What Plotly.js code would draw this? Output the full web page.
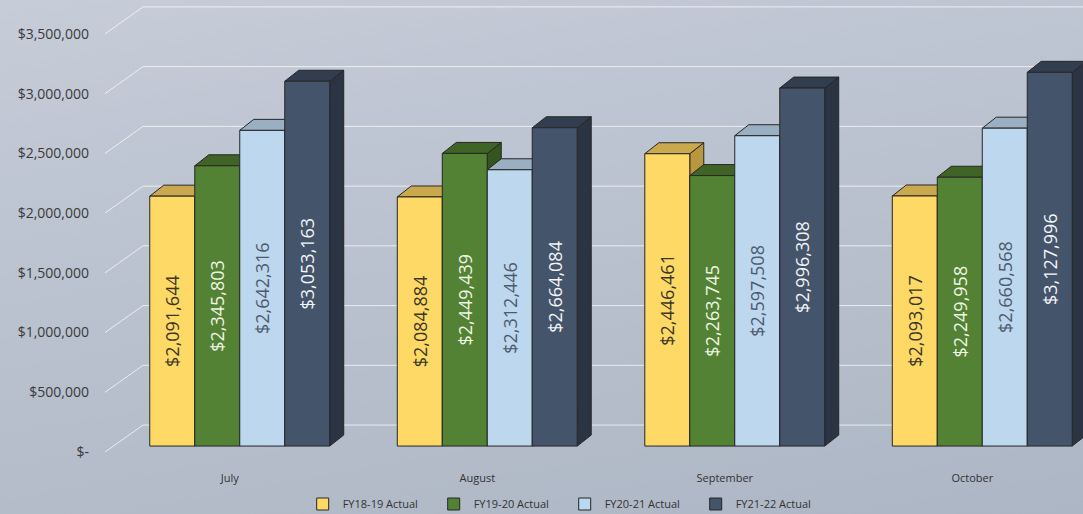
<!DOCTYPE html>
<html>
<head>
<meta charset="utf-8">
<script src="https://cdn.plot.ly/plotly-3.0.1.min.js"></script>
<style>
  html, body { margin: 0; padding: 0; }
  body { width: 1083px; height: 514px; overflow: hidden;
    background: linear-gradient(170deg, #c6ccd8 0%, #bac2cf 45%, #adb6c4 100%); }
  #chart { width: 1083px; height: 514px; }
</style>
</head>
<body>
<div id="chart"></div>
<script>
// ---- data ----
const categories = ['July', 'August', 'September', 'October'];
const fy1819 = [2091644, 2084884, 2446461, 2093017];
const fy1920 = [2345803, 2449439, 2263745, 2249958];
const fy2021 = [2642316, 2312446, 2597508, 2660568];
const fy2122 = [3053163, 2664084, 2996308, 3127996];
const seriesNames = ['FY18-19 Actual', 'FY19-20 Actual', 'FY20-21 Actual', 'FY21-22 Actual'];
const yTickVals = [0, 500000, 1000000, 1500000, 2000000, 2500000, 3000000, 3500000];
const yTickText = ['$-', '$500,000', '$1,000,000', '$1,500,000', '$2,000,000', '$2,500,000', '$3,000,000', '$3,500,000'];

// ---- styling ----
const series = [fy1819, fy1920, fy2021, fy2122];
const frontColors = ['#ffd966', '#548235', '#bdd7ee', '#44546a'];
const topColors   = ['#c9a84e', '#3f6426', '#9aafc2', '#323e4f'];
const sideColors  = ['#b8973f', '#35551f', '#8aa0b4', '#2a3443'];
const textColors  = ['#3a3626', '#eef6e4', '#4d5b6c', '#f2f4f7'];

const W = 1083, H = 514;
const M = {l: 116, r: 0, t: 4, b: 56, autoexpand: false};
const xRange = [-0.5, 3.407];
const yRange = [-100000, 3700000];
const bargap = 0.273;
const plotW = W - M.l - M.r, plotH = H - M.t - M.b;
const pxPerCat = plotW / (xRange[1] - xRange[0]);
const pxPerVal = plotH / (yRange[1] - yRange[0]);
const depthX = 14 / pxPerCat;   // 3D depth in data units
const depthY = 11 / pxPerVal;

const fmt = v => '$' + v.toLocaleString('en-US');

const traces = series.map((vals, j) => ({
  type: 'bar',
  name: seriesNames[j],
  x: categories,
  y: vals,
  text: vals.map(fmt),
  textposition: 'inside',
  insidetextanchor: 'middle',
  textangle: -90,
  constraintext: 'none',
  textfont: {family: 'Open Sans, sans-serif', size: 18, color: textColors[j]},
  marker: {color: frontColors[j], line: {color: '#262626', width: 1}},
  hoverinfo: 'skip'
}));

// 3D faces (side then top), computed from data
const groupW = 1 - bargap, barW = groupW / series.length;
const sides = [], tops = [];
series.forEach((vals, j) => {
  vals.forEach((v, i) => {
    const x0 = i - groupW / 2 + barW * j, x1 = x0 + barW;
    sides.push({type: 'path', xref: 'x', yref: 'y', layer: 'between',
      path: `M${x1},0 L${x1},${v} L${x1 + depthX},${v + depthY} L${x1 + depthX},${depthY} Z`,
      fillcolor: sideColors[j], line: {color: '#262626', width: 1}});
    tops.push({type: 'path', xref: 'x', yref: 'y', layer: 'between',
      path: `M${x0},${v} L${x1},${v} L${x1 + depthX},${v + depthY} L${x0 + depthX},${v + depthY} Z`,
      fillcolor: topColors[j], line: {color: '#262626', width: 1}});
  });
});

// back-wall gridlines with diagonal side-wall segment
const gridFront = -6 / pxPerVal, gridBack = 21 / pxPerVal;
const gx0 = (105 - M.l) / plotW, gx1 = (143 - M.l) / plotW;
const grid = [];
yTickVals.forEach(v => {
  grid.push({type: 'line', xref: 'paper', yref: 'y', layer: 'below',
    x0: gx0, x1: gx1, y0: v + gridFront, y1: v + gridBack,
    line: {color: 'rgba(255,255,255,0.7)', width: 1}});
  grid.push({type: 'line', xref: 'paper', yref: 'y', layer: 'below',
    x0: gx1, x1: 1, y0: v + gridBack, y1: v + gridBack,
    line: {color: 'rgba(255,255,255,0.7)', width: 1}});
});

const layout = {
  width: W, height: H,
  margin: M,
  paper_bgcolor: 'rgba(0,0,0,0)',
  plot_bgcolor: 'rgba(0,0,0,0)',
  barmode: 'group',
  bargap: bargap,
  bargroupgap: 0,
  showlegend: true,
  legend: {orientation: 'h', x: 0.464, xanchor: 'center', y: -(504 - (H - M.b)) / plotH, yanchor: 'middle',
    font: {family: 'Open Sans, sans-serif', size: 11, color: '#333'}, entrywidth: 86, itemwidth: 30,
    bgcolor: 'rgba(0,0,0,0)', traceorder: 'normal'},
  xaxis: {type: 'category', range: xRange, showgrid: false, zeroline: false, showline: false, ticks: '',
    tickfont: {family: 'Open Sans, sans-serif', size: 11, color: '#333'},
    ticklabelstandoff: 12, ticklabelshift: -10, fixedrange: true},
  yaxis: {range: yRange, showgrid: false, zeroline: false, showline: false, ticks: '',
    tickvals: yTickVals, ticktext: yTickText,
    tickfont: {family: 'Open Sans, sans-serif', size: 14, color: '#3a3a3a'},
    ticklabelstandoff: 26, ticklabelshift: 6, fixedrange: true},
  shapes: grid.concat(sides, tops)
};

Plotly.newPlot('chart', traces, layout, {displayModeBar: false, staticPlot: true});
</script>
</body>
</html>
